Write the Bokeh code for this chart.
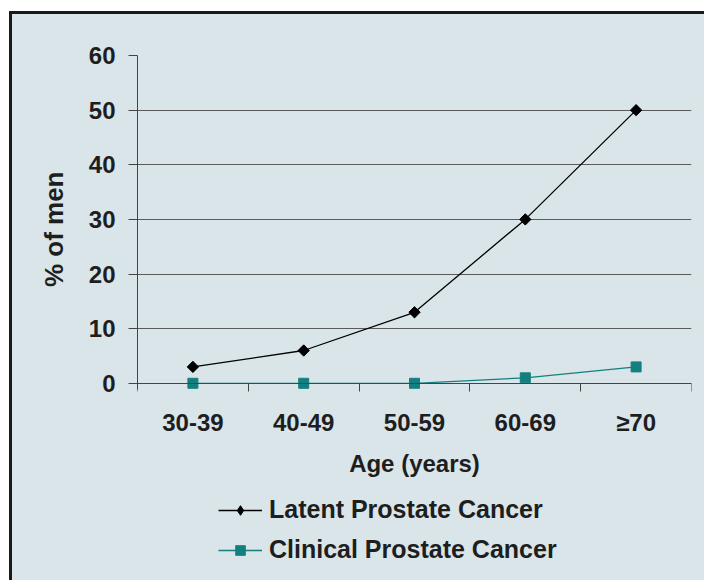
import math
from bokeh.plotting import figure
from bokeh.models import FixedTicker, Range1d, Legend, LegendItem, Title
from bokeh.embed import file_html
from bokeh.resources import INLINE

# ---- data ----
age_groups = ["30-39", "40-49", "50-59", "60-69", "≥70"]
latent = [3, 6, 13, 30, 50]
clinical = [0, 0, 0, 1, 3]
y_ticks = [0, 10, 20, 30, 40, 50, 60]
series_names = ["Latent Prostate Cancer", "Clinical Prostate Cancer"]

FONT = "Liberation Sans"
BG = "#d9e5e9"
TEAL = "#13807f"
TEXT = "#1e1e1e"
AXIS = "#444444"

x = [i + 0.5 for i in range(len(age_groups))]
bounds = list(range(len(age_groups) + 1))

p = figure(width=695, height=569,
           x_range=Range1d(0, len(age_groups)), y_range=Range1d(-35, 60),
           output_backend="svg", toolbar_location=None,
           min_border_left=125, min_border_top=41, min_border_right=16, min_border_bottom=9,
           background_fill_color=None, border_fill_color=BG, outline_line_color=None)
p.styles = {"border-top": "3px solid #1a1a1a", "border-left": "3px solid #1a1a1a",
            "margin-left": "9px", "margin-top": "11px", "background-color": BG}

p.xgrid.visible = False
p.ygrid.ticker = FixedTicker(ticks=y_ticks)
p.ygrid.grid_line_color = "#5a5a5a"
p.ygrid.grid_line_width = 1

l1 = p.line(x, latent, line_color="black", line_width=1.3)
# diamond used as legend key (drawn under the wider diamond markers)
s1_key = p.scatter(x, latent, marker="diamond", size=10,
                   fill_color="black", line_color="black")
s1 = p.scatter(x, latent, marker="square", angle=math.pi / 4, size=8,
               fill_color="black", line_color="black")
l2 = p.line(x, clinical, line_color=TEAL, line_width=1.3)
s2 = p.scatter(x, clinical, marker="square", size=10, fill_color=TEAL, line_color=TEAL)

# x axis
xa = p.xaxis[0]
xa.fixed_location = 0
xa.ticker = FixedTicker(ticks=x, minor_ticks=bounds)
xa.major_label_overrides = {v: g for v, g in zip(x, age_groups)}
xa.major_tick_out = 0
xa.major_tick_in = 0
xa.minor_tick_out = 8
xa.minor_tick_in = 0
xa.minor_tick_line_color = AXIS
xa.axis_line_color = AXIS
xa.major_label_standoff = 18
xa.axis_label = "Age (years)"
xa.axis_label_standoff = 10

# y axis
ya = p.yaxis[0]
ya.ticker = FixedTicker(ticks=y_ticks)
ya.bounds = (-1.1, 60)
ya.major_tick_out = 9
ya.major_tick_in = 0
ya.minor_tick_out = 0
ya.minor_tick_in = 0
ya.major_tick_line_color = AXIS
ya.axis_line_color = AXIS
ya.major_label_standoff = 13

for ax in (xa, ya):
    ax.major_label_text_font = FONT
    ax.major_label_text_font_size = "24px"
    ax.major_label_text_font_style = "bold"
    ax.major_label_text_color = TEXT
    ax.axis_label_text_font = FONT
    ax.axis_label_text_font_size = "24px"
    ax.axis_label_text_font_style = "bold"
    ax.axis_label_text_color = TEXT

ytitle = Title(text="% of men", align="right", offset=116, standoff=33,
               text_font=FONT, text_font_size="26px", text_font_style="bold",
               text_color=TEXT)
p.add_layout(ytitle, "left")

legend = Legend(items=[LegendItem(label=series_names[0], renderers=[l1, s1_key]),
                       LegendItem(label=series_names[1], renderers=[l2, s2])],
                location=(81, 10),
                background_fill_alpha=0, border_line_color=None,
                padding=0, margin=0, spacing=11,
                glyph_width=44, glyph_height=24, label_standoff=7,
                label_text_font=FONT, label_text_font_size="25px",
                label_text_font_style="bold", label_text_color=TEXT)
p.add_layout(legend)

open("out.html", "w").write(file_html(p, INLINE))
